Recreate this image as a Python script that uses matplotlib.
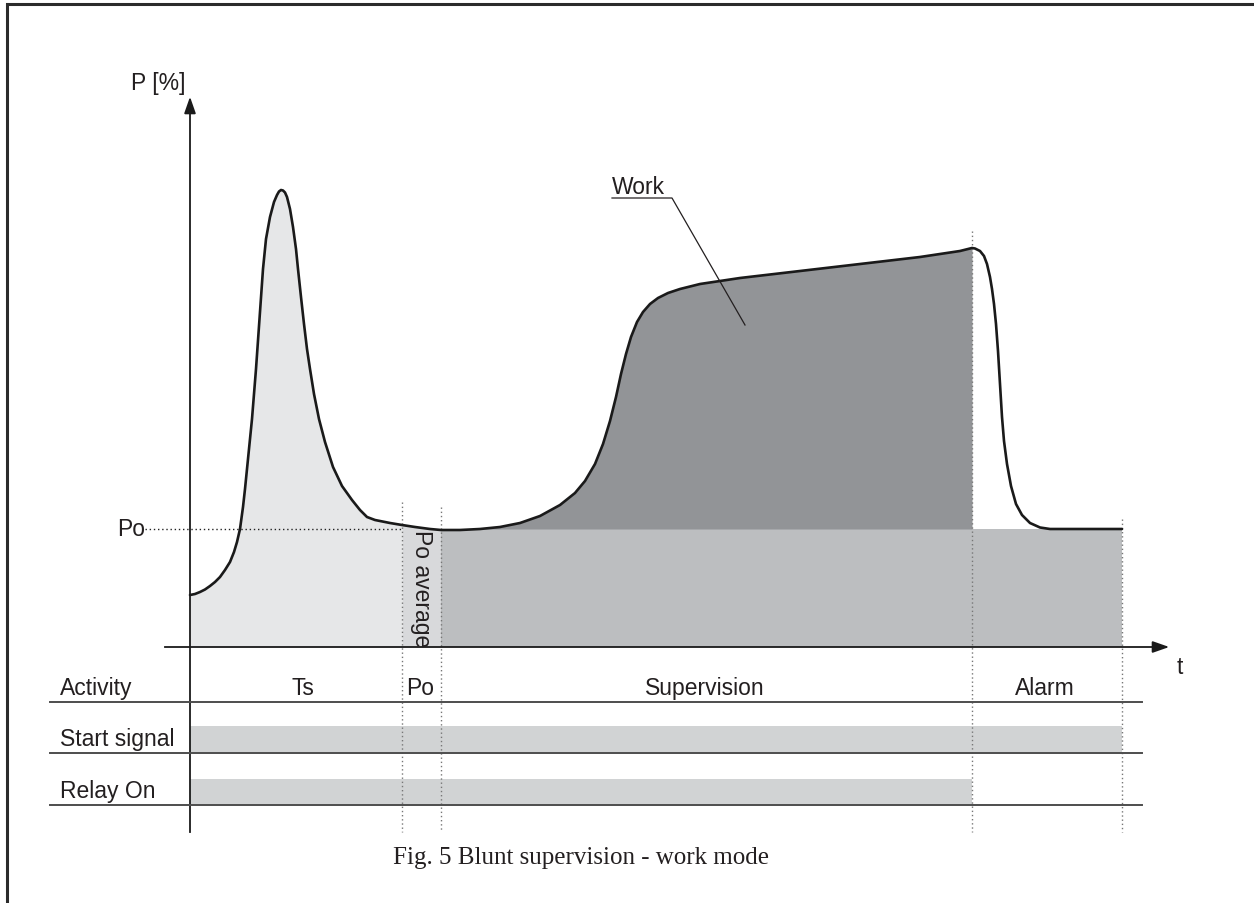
import numpy as np
import matplotlib.pyplot as plt

# everything is laid out in picture units (x to the right, y downwards)
curve_x = np.array([190, 195, 200, 205, 210, 215, 220, 225, 230, 234, 237, 240, 243, 245,
                    247, 252, 256, 259.5, 263, 266, 270, 274, 277, 279, 281, 283, 285,
                    287, 290, 293, 296, 298, 301, 304, 307, 310, 314, 319, 325, 333, 342,
                    352, 360, 367, 375, 390, 402, 415, 430, 441, 460, 480, 500, 520, 540,
                    560, 575, 585, 595, 603, 610, 616, 621, 626, 631, 637, 643, 650, 658,
                    668, 680, 700, 740, 800, 860, 920, 960, 972, 975, 980, 984, 987, 990,
                    992, 994, 996, 998, 1000, 1002, 1004, 1007, 1011, 1016, 1022, 1030,
                    1040, 1050, 1122])
curve_y = np.array([596, 595, 593, 590.5, 587, 583, 578, 571, 563, 553, 543, 530, 508, 490,
                    470, 420, 370, 320, 270, 240, 218, 203, 196, 192.5, 191, 191.5, 193.5,
                    198, 210, 228, 250, 270, 298, 325, 350, 370, 395, 420, 443, 468, 487,
                    501, 511, 518, 521, 524, 526, 528, 530, 531, 531, 530, 528, 524, 517,
                    506, 494, 482, 465, 445, 422, 398, 375, 355, 338, 323, 313, 305, 299,
                    294, 290, 285, 279, 272, 265, 258, 252, 249, 249.5, 252, 257, 265, 278,
                    290, 305, 325, 352, 385, 418, 442, 465, 487, 505, 516, 524,
                    528.5, 530, 530])

po_level = 530
t_axis = 648
t_start = 190
t_avg = 402
t_sup = 441
t_alarm = 972
t_end = 1122

row_names = ["Activity", "Start signal", "Relay On"]
row_lines = [703, 754, 806]
activity_labels = ["Ts", "Po", "Supervision", "Alarm"]
activity_x = [303, 420, 705, 1045]
start_signal = (t_start, t_end)
relay_on = (t_start, t_alarm)

plt.rcParams['font.family'] = ['Liberation Sans', 'DejaVu Sans']
fig = plt.figure(figsize=(12.54, 9.04), dpi=100)
ax = fig.add_axes([0, 0, 1, 1])
ax.set_xlim(0, 1254)
ax.set_ylim(904, 0)
ax.axis('off')

# frame (only top and left visible)
ax.plot([7, 7, 1254], [904, 5, 5], color='#2b2b2b', lw=2.2, solid_joinstyle='miter')

# fills
m1 = (curve_x >= t_start) & (curve_x <= t_avg)
ax.fill_between(curve_x[m1], curve_y[m1], t_axis, color='#e6e7e8', lw=0)
m2 = (curve_x >= t_avg) & (curve_x <= t_sup)
ax.fill_between(curve_x[m2], curve_y[m2], t_axis, color='#d8d9db', lw=0)
ax.fill_between([t_sup, t_end], po_level, t_axis, color='#bcbec0', lw=0)
m3 = (curve_x >= t_sup) & (curve_x <= t_alarm)
ax.fill_between(curve_x[m3], curve_y[m3], po_level, where=curve_y[m3] < po_level,
                interpolate=True, color='#929497', lw=0)

# dotted markers
ax.plot([145, t_avg], [po_level, po_level], color='#222222', lw=1, ls=(0, (1, 2)))
for x0, ytop in [(t_avg, 503), (t_sup, 508), (t_alarm, 232), (t_end, 520)]:
    ax.plot([x0, x0], [ytop, 833], color='#777777', lw=1, ls=(0, (1, 2)))

# axes with arrows
ax.plot([t_start, t_start], [833, 110], color='#1a1a1a', lw=1.3)
ax.annotate('', xy=(t_start, 95), xytext=(t_start, 112),
            arrowprops=dict(arrowstyle='-|>,head_width=0.35,head_length=1.0', color='#1a1a1a', lw=1.3))
ax.plot([165, 1155], [t_axis, t_axis], color='#1a1a1a', lw=1.3)
ax.annotate('', xy=(1172, t_axis), xytext=(1152, t_axis),
            arrowprops=dict(arrowstyle='-|>,head_width=0.35,head_length=1.0', color='#1a1a1a', lw=1.3))

# the power curve
ax.plot(curve_x, curve_y, color='#1a1a1a', lw=1.9, solid_capstyle='round',
        solid_joinstyle='round')

# texts on the chart
fs = 16.5
ax.text(158, 90, "P [%]", fontsize=fs, ha='center', va='baseline', color='#231f20')
ax.text(1180, 668, "t", fontsize=fs, ha='center', va='center', color='#231f20')
ax.text(145, 530, "Po", fontsize=fs, ha='right', va='center', color='#231f20')
ax.text(421, 589, "Po average", fontsize=fs, rotation=270, ha='center', va='center',
        color='#231f20')
ax.text(612, 194, "Work", fontsize=fs, ha='left', va='baseline', color='#231f20')
ax.plot([612, 672, 745], [199, 199, 326], color='#231f20', lw=0.9)

# timing rows
for name, yl in zip(row_names, row_lines):
    ax.text(60, yl - 8, name, fontsize=fs, ha='left', va='baseline', color='#231f20')
    ax.plot([50, 1142], [yl, yl], color='#4d4d4d', lw=1.4)
ax.fill_between(start_signal, 727, 753, color='#d1d3d4', lw=0)
ax.fill_between(relay_on, 780, 805, color='#d1d3d4', lw=0)
for lab, xl in zip(activity_labels, activity_x):
    ax.text(xl, row_lines[0] - 8, lab, fontsize=fs, ha='center', va='baseline', color='#231f20')

ax.text(581, 858, "Fig. 5 Blunt supervision - work mode", fontsize=18,
        family=['Liberation Serif', 'DejaVu Serif'], ha='center', va='center', color='#231f20')

fig.savefig('out.png', dpi=100)
